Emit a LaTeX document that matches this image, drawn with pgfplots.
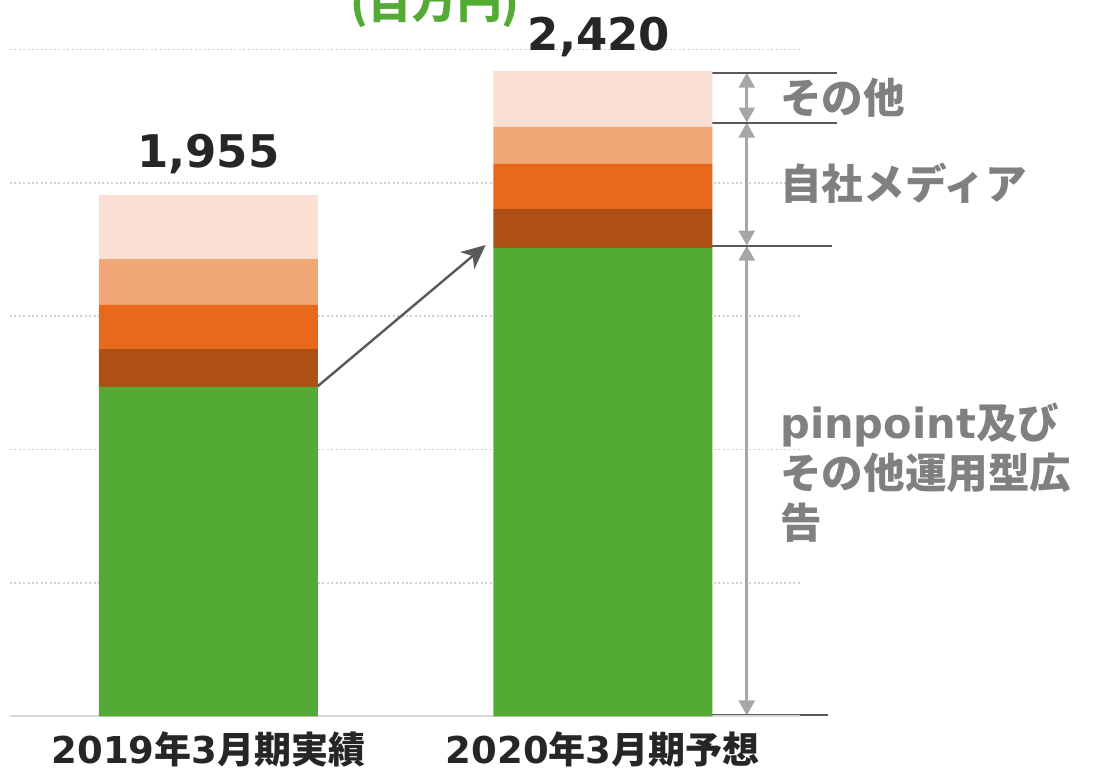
\documentclass[border=0pt]{standalone}
\usepackage{pgfplots}
\pgfplotsset{compat=1.18}
\usepackage{pgfplotstable}
\usepackage{fontspec}
\setmainfont{Noto Sans CJK JP}
\newfontfamily\dv{DejaVu Sans}
\usetikzlibrary{arrows.meta}

\definecolor{cgreen}{HTML}{53AB36}
\definecolor{cbrown}{HTML}{AE4F13}
\definecolor{corange}{HTML}{E8691C}
\definecolor{clorange}{HTML}{F1A675}
\definecolor{cpale}{HTML}{FAE0D2}
\definecolor{darktext}{HTML}{262626}
\definecolor{labgray}{HTML}{808080}
\definecolor{arrowgray}{HTML}{A6A6A6}
\definecolor{linegray}{HTML}{595959}
\definecolor{gridgray}{HTML}{D0D0D0}
\definecolor{basegray}{HTML}{D9D9D9}

\pgfplotstableread{
x green brown orange lorange pale
0 1235 142 166 171 241
1 1756 146 169 139 210
}\datatable

\begin{document}
\begin{tikzpicture}
\begin{axis}[
  at={(0,0)}, anchor=south west,
  scale only axis, width=395pt, height=333.5pt,
  xmin=-0.503, xmax=1.5, ymin=0, ymax=2500,
  ybar stacked, bar width=109.5pt,
  axis line style={draw=none},
  ytick={500,1000,1500,2000,2500}, yticklabels={},
  ymajorgrids,
  grid style={dash pattern=on 1pt off 1.2pt, color=gridgray, line width=0.8pt},
  xtick={0,1},
  xticklabels={{{\dv 2019}年{\dv 3}月期実績},{{\dv 2020}年{\dv 3}月期予想}},
  major tick length=0,
  xticklabel style={font=\bfseries\fontsize{18.5}{20}\selectfont, text=darktext, yshift=-4pt},
  clip=false,
]
\addplot[fill=cgreen, draw=none] table[x=x,y=green]{\datatable};
\addplot[fill=cbrown, draw=none] table[x=x,y=brown]{\datatable};
\addplot[fill=corange, draw=none] table[x=x,y=orange]{\datatable};
\addplot[fill=clorange, draw=none] table[x=x,y=lorange]{\datatable};
\addplot[fill=cpale, draw=none] table[x=x,y=pale]{\datatable};

% baseline
\draw[basegray, line width=1pt] (axis cs:-0.503,0) -- (axis cs:1.5,0);

% totals
\node[anchor=base, font=\dv\bfseries\fontsize{22.5}{24}\selectfont, text=darktext] at (axis cs:0,2056) {1,955};
\node[anchor=base, font=\dv\bfseries\fontsize{22.5}{24}\selectfont, text=darktext] at (axis cs:0.99,2498) {2,420};

% unit title (cropped at top)
\node[anchor=base, font=\bfseries\fontsize{22.3}{24}\selectfont, text=cgreen] at (axis cs:0.574,2618) {(百万円)};

% trend arrow
\draw[linegray, line width=1.2pt, -{Stealth[length=12pt,width=11pt,inset=3.5pt]}] (axis cs:0.274,1234) -- (axis cs:0.703,1767);

% bracket lines
\draw[linegray, line width=1pt] (axis cs:1.274,2413) -- (axis cs:1.593,2413);
\draw[linegray, line width=1pt] (axis cs:1.274,2226) -- (axis cs:1.593,2226);
\draw[linegray, line width=1pt] (axis cs:1.259,1765) -- (axis cs:1.580,1765);
\draw[linegray, line width=1pt] (axis cs:1.253,4) -- (axis cs:1.571,4);

% double arrows
\draw[arrowgray, line width=1.3pt, {Triangle[width=8pt,length=7.5pt]}-{Triangle[width=8pt,length=7.5pt]}] (axis cs:1.365,2413) -- (axis cs:1.365,2226);
\draw[arrowgray, line width=1.3pt, {Triangle[width=8pt,length=7.5pt]}-{Triangle[width=8pt,length=7.5pt]}] (axis cs:1.365,2226) -- (axis cs:1.365,1765);
\draw[arrowgray, line width=1.3pt, {Triangle[width=8pt,length=7.5pt]}-{Triangle[width=8pt,length=7.5pt]}] (axis cs:1.365,1765) -- (axis cs:1.365,4);

% segment labels
\node[anchor=west, inner sep=0pt, font=\bfseries\fontsize{20.8}{25}\selectfont, text=labgray] at (axis cs:1.449,2318) {その他};
\node[anchor=west, inner sep=0pt, font=\bfseries\fontsize{20.8}{25}\selectfont, text=labgray] at (axis cs:1.449,2000) {自社メディア};
\node[anchor=north west, inner sep=0pt, align=left, font=\bfseries\fontsize{20.8}{25}\selectfont, text=labgray] at (axis cs:1.449,1175) {{\dv pinpoint}及び\\その他運用型広\\告};
\end{axis}
\pgfresetboundingbox
\useasboundingbox (-5pt,-27.25pt) rectangle (541.5pt,358.25pt);
\end{tikzpicture}
\end{document}
